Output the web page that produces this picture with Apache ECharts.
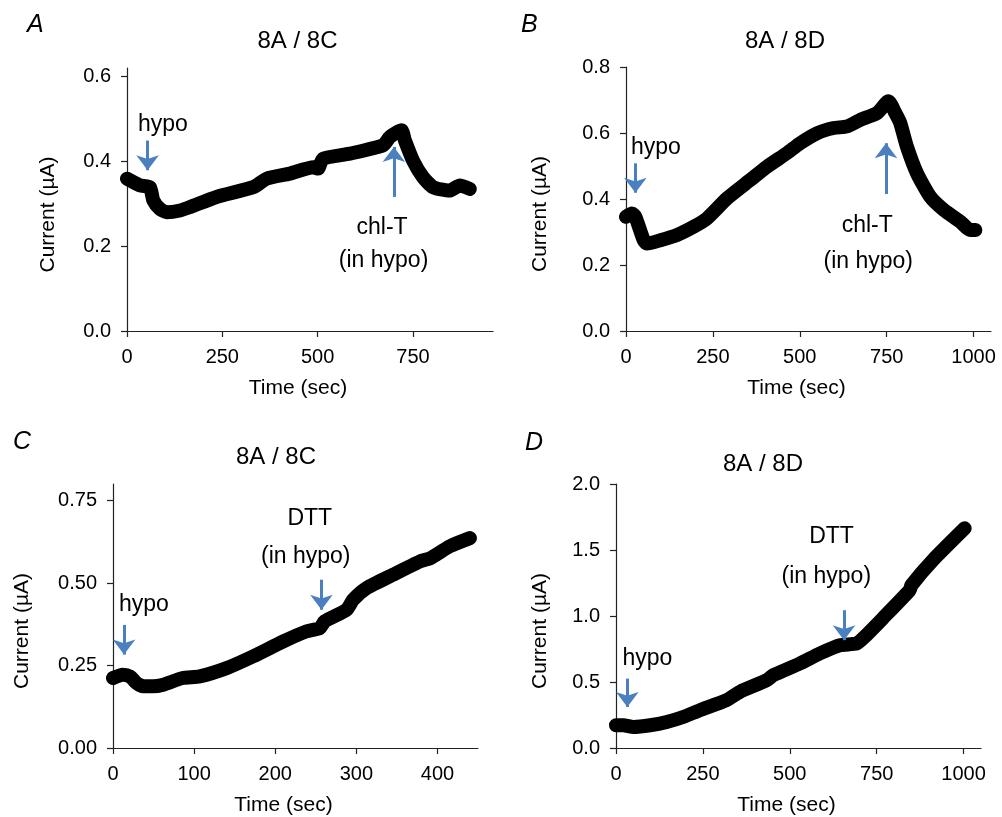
<!DOCTYPE html>
<html>
<head>
<meta charset="utf-8">
<script src="https://cdn.jsdelivr.net/npm/echarts@6/dist/echarts.min.js"></script>
<style>
  html, body { margin: 0; padding: 0; background: #fff; }
  #chart { width: 1002px; height: 817px; }
</style>
</head>
<body>
<div id="chart"></div>
<script>
// panel A : 8A / 8C, chl-T
const timeA = [0, 34, 60, 69, 86, 104, 139, 165, 235, 331, 366, 427, 489, 501, 514, 584, 672, 689, 720, 729, 750, 776, 803, 846, 873, 899]
const currentA = [0.359, 0.343, 0.339, 0.308, 0.288, 0.280, 0.284, 0.292, 0.316, 0.339, 0.359, 0.371, 0.386, 0.383, 0.406, 0.418, 0.438, 0.457, 0.473, 0.449, 0.402, 0.363, 0.339, 0.331, 0.343, 0.335]
// panel B : 8A / 8D, chl-T
const timeB = [0, 17, 27, 51, 60, 99, 147, 195, 233, 291, 358, 406, 463, 501, 549, 597, 636, 674, 722, 755, 775, 789, 808, 837, 875, 914, 962, 990, 1005]
const currentB = [0.346, 0.356, 0.346, 0.275, 0.265, 0.275, 0.291, 0.316, 0.341, 0.402, 0.458, 0.498, 0.539, 0.569, 0.599, 0.615, 0.620, 0.640, 0.660, 0.696, 0.660, 0.630, 0.559, 0.478, 0.407, 0.367, 0.331, 0.306, 0.306]
// panel C : 8A / 8C, DTT
const timeC = [0, 12, 21, 29, 37, 49, 62, 86, 107, 140, 173, 210, 238, 255, 261, 288, 296, 313, 345, 378, 391, 415, 440]
const currentC = [0.212, 0.222, 0.217, 0.197, 0.187, 0.187, 0.192, 0.212, 0.217, 0.242, 0.278, 0.323, 0.353, 0.363, 0.384, 0.419, 0.449, 0.485, 0.525, 0.565, 0.575, 0.611, 0.636]
// panel D : 8A / 8D, DTT
const timeD = [0, 21, 50, 98, 146, 193, 241, 318, 356, 433, 452, 529, 586, 644, 692, 710, 767, 845, 850, 912, 1003]
const currentD = [0.172, 0.172, 0.159, 0.172, 0.197, 0.235, 0.286, 0.362, 0.425, 0.513, 0.551, 0.640, 0.716, 0.779, 0.791, 0.829, 0.981, 1.196, 1.234, 1.424, 1.664]

// tick values
const xTicksA = [0, 250, 500, 750]
const xTicksBD = [0, 250, 500, 750, 1000]
const xTicksC = [0, 100, 200, 300, 400]
const yTicksA = [0, 0.2, 0.4, 0.6]
const yTicksB = [0, 0.2, 0.4, 0.6, 0.8]
const yTicksC = [0, 0.25, 0.5, 0.75]
const yTicksD = [0, 0.5, 1.0, 1.5, 2.0]

// arrows: [time, from, tip]
const arrowsA = [[54, 0.449, 0.379], [700, 0.316, 0.434]]
const arrowsB = [[27, 0.508, 0.419], [748, 0.415, 0.569]]
const arrowsC = [[13.6, 0.373, 0.283], [257, 0.510, 0.419]]
const arrowsD = [[32.6, 0.526, 0.311], [656, 1.044, 0.817]]

// annotation texts: [text, time, current]
const notesA = [['hypo', 94, 0.486], ['chl-T', 669, 0.243], ['(in hypo)', 673, 0.165]]
const notesB = [['hypo', 86, 0.556], ['chl-T', 694, 0.318], ['(in hypo)', 697, 0.209]]
const notesC = [['hypo', 38, 0.434], ['DTT', 242.6, 0.695], ['(in hypo)', 237.6, 0.579]]
const notesD = [['hypo', 90.5, 0.68], ['DTT', 620, 1.60], ['(in hypo)', 605, 1.295]]

const FONT = '"Liberation Sans", Arial, Helvetica, sans-serif'
const ARROW = '#4a7fc0'

const chart = echarts.init(document.getElementById('chart'))

const grids = [
    { left: 127, top: 68, width: 366, height: 263 },
    { left: 626, top: 67, width: 365, height: 264 },
    { left: 113, top: 484, width: 365, height: 264 },
    { left: 616, top: 484, width: 365, height: 264 },
]

const xAxisOf = (i, max, ticks) => ({
    type: 'value', gridIndex: i, min: 0, max: max,
    name: 'Time (sec)', nameLocation: 'middle', nameGap: 47,
    nameTextStyle: { color: '#000', fontSize: 21, fontFamily: FONT, padding: [0, 24, 0, 0] },
    axisLine: { show: true, lineStyle: { color: '#222', width: 1.2 } },
    axisTick: { show: true, length: 6, inside: false, customValues: ticks, lineStyle: { color: '#222', width: 1.2 } },
    axisLabel: { customValues: ticks, color: '#000', fontSize: 20, fontFamily: FONT, margin: 16,
        formatter: v => String(v) },
    splitLine: { show: false }
})

const yAxisOf = (i, max, ticks, digits, gap) => ({
    type: 'value', gridIndex: i, min: 0, max: max,
    name: 'Current (µA)', nameLocation: 'middle', nameGap: gap,
    nameTextStyle: { color: '#000', fontSize: 21, fontFamily: FONT, padding: [0, 30, 0, 0] },
    axisLine: { show: true, lineStyle: { color: '#222', width: 1.2 } },
    axisTick: { show: true, length: 6, inside: false, customValues: ticks, lineStyle: { color: '#222', width: 1.2 } },
    axisLabel: { customValues: ticks, color: '#000', fontSize: 20, fontFamily: FONT, margin: 16,
        formatter: v => v.toFixed(digits) },
    splitLine: { show: false }
})

const seriesOf = (i, times, values, arrows, notes) => ({
    type: 'line', xAxisIndex: i, yAxisIndex: i,
    data: times.map((t, k) => [t, values[k]]),
    symbol: 'none', clip: false, smooth: 0.2,
    lineStyle: { color: '#000', width: 14, cap: 'round', join: 'round' },
    markLine: {
        silent: true, symbol: ['none', 'arrow'], symbolSize: [17, 15],
        label: { show: false },
        lineStyle: { color: ARROW, width: 3, type: 'solid' },
        data: arrows.map(a => [{ coord: [a[0], a[1]] }, { coord: [a[0], a[2]] }])
    },
    markPoint: {
        silent: true, symbol: 'circle', symbolSize: 0,
        itemStyle: { color: 'transparent' },
        label: { show: true, position: 'inside', formatter: '{b}', color: '#000', fontSize: 23, fontFamily: FONT },
        data: notes.map(n => ({ name: n[0], coord: [n[1], n[2]] }))
    }
})

const textAt = (x, y, text, size, italic) => ({
    type: 'text', x: x, y: y,
    style: { text: text, fill: '#000', fontSize: size, fontFamily: FONT, fontStyle: italic ? 'italic' : 'normal',
        textAlign: italic ? 'left' : 'center', textVerticalAlign: 'middle' }
})

const option = {
    animation: false,
    backgroundColor: '#fff',
    grid: grids,
    xAxis: [xAxisOf(0, 960, xTicksA), xAxisOf(1, 1050, xTicksBD), xAxisOf(2, 450, xTicksC), xAxisOf(3, 1050, xTicksBD)],
    yAxis: [yAxisOf(0, 0.62, yTicksA, 1, 68), yAxisOf(1, 0.8, yTicksB, 1, 75), yAxisOf(2, 0.8, yTicksC, 2, 80), yAxisOf(3, 2.0, yTicksD, 1, 65)],
    series: [
        seriesOf(0, timeA, currentA, arrowsA, notesA),
        seriesOf(1, timeB, currentB, arrowsB, notesB),
        seriesOf(2, timeC, currentC, arrowsC, notesC),
        seriesOf(3, timeD, currentD, arrowsD, notesD),
    ],
    graphic: [
        textAt(27, 25, 'A', 25, true),
        textAt(521, 25, 'B', 25, true),
        textAt(13, 442, 'C', 25, true),
        textAt(525, 443, 'D', 25, true),
        textAt(297.5, 41, '8A / 8C', 24),
        textAt(785, 41, '8A / 8D', 24),
        textAt(276, 457, '8A / 8C', 24),
        textAt(763, 464, '8A / 8D', 24),
    ]
}

chart.setOption(option)
</script>
</body>
</html>
